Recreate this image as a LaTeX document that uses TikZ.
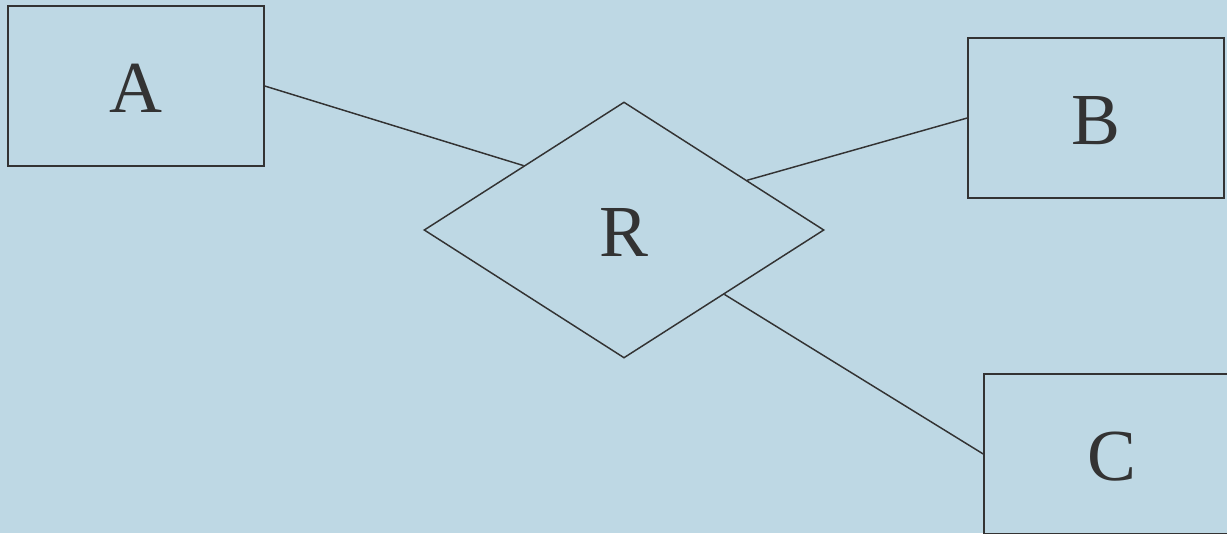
\documentclass[tikz,border=0pt]{standalone}
\usepackage{fontspec}
\setmainfont{Liberation Serif}
\usepackage{tikz}
\usetikzlibrary{shapes.geometric}
\definecolor{bgblue}{HTML}{BED8E4}
\definecolor{ink}{HTML}{333333}
\tikzstyle{edge}=[
	-,
	draw=ink,
	line width=1.1pt
]
\tikzstyle{entity}=[
	rectangle,
	draw=ink,
	line width=1.1pt,
	minimum width=192pt,
	minimum height=120pt,
	text=ink,
	text height=40pt,
	text depth=0pt,
	font=\fontsize{55}{60}\selectfont
]
\tikzstyle{relation}=[
	diamond,
	draw=ink,
	line width=1.1pt,
	inner sep=0pt,
	minimum width=300pt,
	minimum height=192pt,
	text=ink,
	text height=40pt,
	text depth=0pt,
	font=\fontsize{55}{60}\selectfont
]

\begin{document}
\begin{tikzpicture}[x=0.75pt,y=-0.75pt]
\useasboundingbox (0,0) rectangle (1227,533);
\fill[bgblue] (0,0) rectangle (1227,533);
\clip (0,0) rectangle (1227,533);

\node[entity] (A) at (136,86) {A};
\node[entity] (B) at (1096,118) {B};
\node[entity] (C) at (1112,454) {C};
\node[relation] (R) at (624,230) {R};

\draw[edge] (A.east) to (R.north west);
\draw[edge] (B.west) to (R.22);
\draw[edge] (C.west) to (R.south east);
\end{tikzpicture}
\end{document}
